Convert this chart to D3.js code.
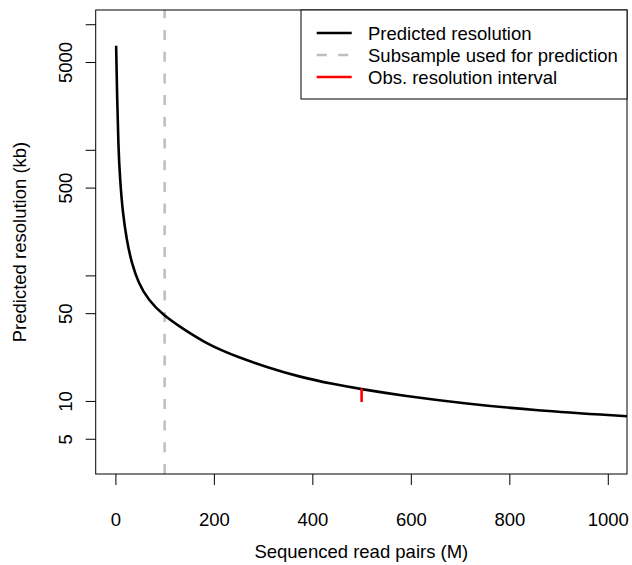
<!DOCTYPE html>
<html lang="en">
<head>
<meta charset="UTF-8">
<title>Predicted resolution</title>
<style>
    body { margin: 0; background: #fff; }
    svg text { font-family: "Liberation Sans", Arial, Helvetica, sans-serif; font-size: 18.5px; fill: #000; }
    .tick line { stroke: #000; }
</style>
</head>
<body>
<svg width="632" height="565"></svg>
<script src="https://d3js.org/d3.v7.min.js"></script>
<script>
// values
const readPairs  = [1.5, 3.5, 6, 9.5, 15, 23, 33, 47, 67, 97, 135, 182, 223, 240, 308, 375, 443, 500, 578, 714, 849, 1040];
const resolution = [6745, 2646, 1057, 574, 313, 191, 125, 86.7, 63.5, 48.2, 38, 29.1, 24.6, 23.1, 18.5, 15.5, 13.6, 12.4, 11.1, 9.5, 8.43, 7.55];
const subsampleX = 100;
const obsX = 500;
const obsInterval = [9.8, 12.6];
const xTicks = [0, 200, 400, 600, 800, 1000];
const yTicks = [5, 10, 50, 100, 500, 1000, 5000, 10000];
const yLabels = [5, 10, 50, 500, 5000];
const legendItems = ["Predicted resolution", "Subsample used for prediction", "Obs. resolution interval"];

const svg = d3.select("svg");
const plot = {left: 95.7, right: 627, top: 10, bottom: 474};

const x = d3.scaleLinear().domain([-40, 1039]).range([plot.left, plot.right]);
const y = d3.scaleLog().domain([2.62, 12980]).range([plot.bottom, plot.top]);

svg.append("clipPath").attr("id", "clip")
    .append("rect")
    .attr("x", plot.left).attr("y", plot.top)
    .attr("width", plot.right - plot.left).attr("height", plot.bottom - plot.top);

const g = svg.append("g").attr("clip-path", "url(#clip)");

// subsample line
g.append("line")
    .attr("x1", x(subsampleX)).attr("x2", x(subsampleX))
    .attr("y1", plot.bottom).attr("y2", plot.top)
    .attr("stroke", "#bebebe").attr("stroke-width", 2.5)
    .attr("stroke-dasharray", "10,11.7");

// predicted curve
const pts = readPairs.map((d, i) => [d, resolution[i]]);
const line = d3.line()
    .x(d => x(d[0]))
    .y(d => y(d[1]))
    .curve(d3.curveBasis);

g.append("path")
    .datum(pts)
    .attr("d", line)
    .attr("fill", "none")
    .attr("stroke", "#000")
    .attr("stroke-width", 2.6);

// observed interval
g.append("line")
    .attr("x1", x(obsX)).attr("x2", x(obsX))
    .attr("y1", y(obsInterval[0])).attr("y2", y(obsInterval[1]))
    .attr("stroke", "#ff0000").attr("stroke-width", 2.6);

// axes
const xAxis = svg.append("g")
    .attr("transform", `translate(0,${plot.bottom})`)
    .call(d3.axisBottom(x).tickValues(xTicks).tickSize(11).tickFormat(""));
xAxis.select(".domain").remove();
xAxis.selectAll(".tick").append("text")
    .attr("y", 52).attr("text-anchor", "middle")
    .text(d => d);

const yAxis = svg.append("g")
    .attr("transform", `translate(${plot.left},0)`)
    .call(d3.axisLeft(y).tickValues(yTicks).tickSize(10).tickFormat(""));
yAxis.select(".domain").remove();
yAxis.selectAll(".tick")
    .filter(d => yLabels.includes(d))
    .append("text")
    .attr("transform", "translate(-24,0) rotate(-90)")
    .attr("text-anchor", "middle")
    .text(d => d);

// box
svg.append("rect")
    .attr("x", plot.left).attr("y", plot.top)
    .attr("width", plot.right - plot.left).attr("height", plot.bottom - plot.top)
    .attr("fill", "none").attr("stroke", "#000").attr("stroke-width", 1);

// titles
svg.append("text")
    .attr("x", (plot.left + plot.right) / 2).attr("y", 558)
    .attr("text-anchor", "middle")
    .text("Sequenced read pairs (M)");

svg.append("text")
    .attr("transform", `translate(25.5,${(plot.top + plot.bottom) / 2}) rotate(-90)`)
    .attr("text-anchor", "middle")
    .text("Predicted resolution (kb)");

// legend
const legend = svg.append("g");
legend.append("rect")
    .attr("x", 301).attr("y", plot.top)
    .attr("width", plot.right - 301).attr("height", 89)
    .attr("fill", "#fff").attr("stroke", "#000").attr("stroke-width", 1);

const styles = [
    {color: "#000", dash: null},
    {color: "#bebebe", dash: "10,11.5"},
    {color: "#ff0000", dash: null}
];

const rows = legend.selectAll(".item")
    .data(legendItems)
    .enter().append("g")
    .attr("transform", (d, i) => `translate(0,${33 + i * 22})`);

rows.append("line")
    .attr("x1", 316.7).attr("x2", 351.7)
    .attr("stroke", (d, i) => styles[i].color)
    .attr("stroke-width", 2.6)
    .attr("stroke-dasharray", (d, i) => styles[i].dash);

rows.append("text")
    .attr("x", 368).attr("y", 6.5)
    .text(d => d);
</script>
</body>
</html>
